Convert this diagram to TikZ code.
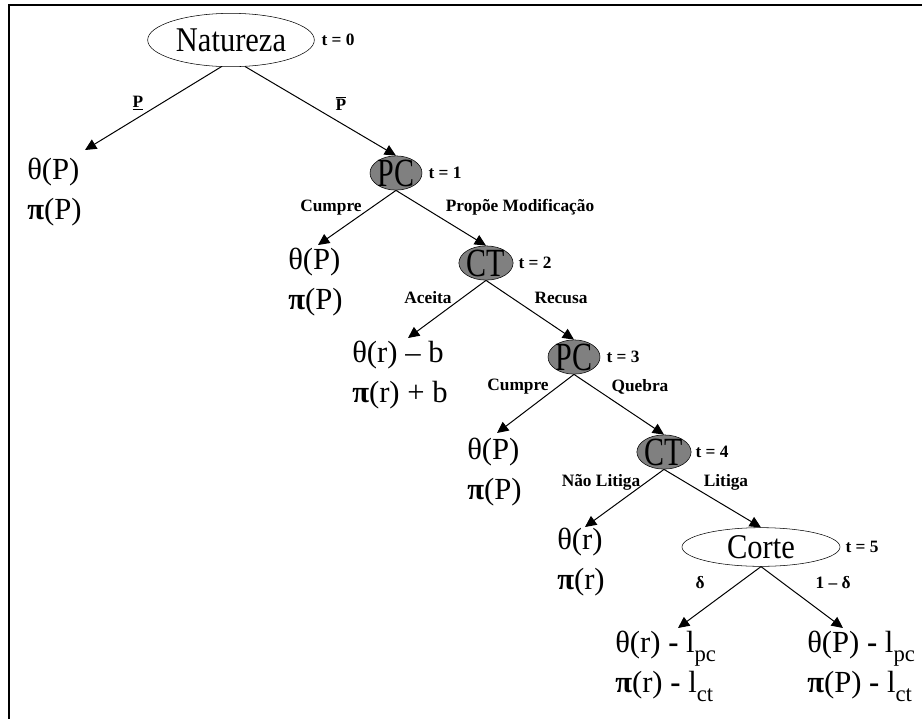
\documentclass[tikz,border=0pt]{standalone}
\usepackage{fontspec}
\setmainfont{Liberation Serif}
\newfontfamily\narrowfont[FakeStretch=0.75]{Liberation Serif}
\newfontfamily\chancefont[FakeStretch=0.88]{Liberation Serif}
\usetikzlibrary{shapes.geometric,arrows.meta}
\newcommand{\lowsub}[1]{\raisebox{-0.28em}{\fontsize{17}{17}\selectfont #1}}

\begin{document}
\begin{tikzpicture}[x=0.75pt, y=-0.75pt,
    player/.style={ellipse, draw, fill=gray, inner xsep=0pt, inner ysep=-1pt,
        minimum width=39pt, minimum height=25.5pt, font=\narrowfont\fontsize{30}{30}\selectfont},
    chance/.style={ellipse, draw, fill=white, inner sep=0pt, font=\chancefont\fontsize{26}{26}\selectfont},
    payoff/.style={anchor=north west, align=left, inner sep=0pt, font=\fontsize{23}{30}\selectfont},
    act/.style={inner sep=0pt, font=\bfseries\fontsize{13}{15}\selectfont},
    move/.style={-{Triangle[length=8.5pt,width=8pt]}, line width=0.75pt}]

    \useasboundingbox (0,0) rectangle (922,719);

    % Frame
    \draw[line width=1.5pt] (922,5) -- (9,5) -- (9,719);

    % Nodes
    \node[chance, minimum width=125pt, minimum height=40pt] (nat) at (231,40) {Natureza};
    \node[act] (t0) at (338,40) {t = 0};
    \node[player] (pc1) at (396,173) {PC};
    \node[act] (t1) at (445,173) {t = 1};
    \node[player] (ct2) at (486,263) {CT};
    \node[act] (t2) at (535,263) {t = 2};
    \node[player] (pc3) at (574,357) {PC};
    \node[act] (t3) at (623,357) {t = 3};
    \node[player] (ct4) at (664,452) {CT};
    \node[act] (t4) at (712,452) {t = 4};
    \node[chance, minimum width=118.5pt, minimum height=29pt] (corte) at (761,547) {Corte};
    \node[act] (t5) at (862,547) {t = 5};

    % Payoffs
    \node[payoff] (p0) at (27,158) {θ(P)\\\textbf{π}(P)};
    \node[payoff] (p1) at (288,248) {θ(P)\\\textbf{π}(P)};
    \node[payoff] (p2) at (352,341) {θ(r) – b\\\textbf{π}(r) + b};
    \node[payoff] (p3) at (467,438) {θ(P)\\\textbf{π}(P)};
    \node[payoff] (p4) at (557,528) {θ(r)\\\textbf{π}(r)};
    \node[payoff] (p5) at (615,631) {θ(r) \textbf{-} l\lowsub{pc}\\\textbf{π}(r) \textbf{-} l\lowsub{ct}};
    \node[payoff] (p6) at (807,631) {θ(P) \textbf{-} l\lowsub{pc}\\\textbf{π}(P) \textbf{-} l\lowsub{ct}};

    % Arrow ends above the payoffs
    \coordinate (e0) at (85,150);
    \coordinate (e1) at (318,245);
    \coordinate (e2) at (408,338);
    \coordinate (e3) at (497,433);
    \coordinate (e4) at (585,527);
    \coordinate (e5) at (678,628);
    \coordinate (e6) at (843,628);

    % Moves
    \draw[move] (nat.250) -- (e0);
    \draw[move] (nat.298) -- (pc1.north);
    \draw[move] (pc1.south) -- (e1);
    \draw[move] (pc1.south) -- (ct2.north);
    \draw[move] (ct2.south) -- (e2);
    \draw[move] (ct2.south) -- (pc3.north);
    \draw[move] (pc3.south) -- (e3);
    \draw[move] (pc3.south) -- (ct4.north);
    \draw[move] (ct4.south) -- (e4);
    \draw[move] (ct4.south) -- (corte.north);
    \draw[move] (corte.south) -- (e5);
    \draw[move] (corte.south) -- (e6);

    % Move labels
    \node[act] (lp) at (138,103) {\underline{P}};
    \node[act] (lpbar) at (341,103) {$\overline{\mbox{P}}$};
    \node[act] (a1) at (331,208) {Cumpre};
    \node[act] (b1) at (520,207) {Propõe Modificação};
    \node[act] (a2) at (428,298) {Aceita};
    \node[act] (b2) at (561,298) {Recusa};
    \node[act] (a3) at (518,387) {Cumpre};
    \node[act] (b3) at (640,387) {Quebra};
    \node[act] (a4) at (601,482) {Não Litiga};
    \node[act] (b4) at (726,482) {Litiga};
    \node[act] (a5) at (700,583) {δ};
    \node[act] (b5) at (833,583) {1 – δ};
\end{tikzpicture}
\end{document}
